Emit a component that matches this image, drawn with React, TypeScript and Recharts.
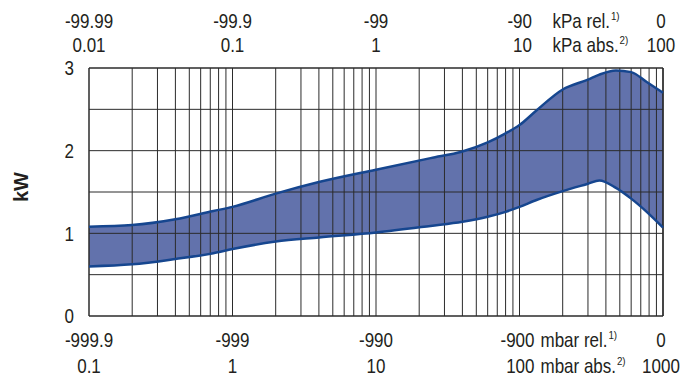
import React from 'react';
import { ComposedChart, Area, Line, XAxis, YAxis, ReferenceLine } from 'recharts';

// pressure in kPa abs, power in kW
const pressureKPa = [0.01, 0.02, 0.04, 0.0735, 0.1, 0.2, 0.4, 1, 2.4, 4, 6, 8, 10, 13, 20, 30, 36, 47, 60, 77, 100];
const powerMax = [1.08, 1.1, 1.17, 1.27, 1.32, 1.48, 1.62, 1.77, 1.91, 1.99, 2.1, 2.21, 2.31, 2.48, 2.74, 2.86, 2.92, 2.97, 2.95, 2.83, 2.7];
const powerMin = [0.6, 0.625, 0.69, 0.76, 0.81, 0.9, 0.95, 1.01, 1.09, 1.14, 1.2, 1.26, 1.32, 1.4, 1.51, 1.6, 1.64, 1.55, 1.42, 1.26, 1.07];

const decadeTicks = [0.01, 0.1, 1, 10, 100];
const kPaRelLabels = ['-99.99', '-99.9', '-99', '-90', '0'];
const kPaAbsLabels = ['0.01', '0.1', '1', '10', '100'];
const mbarRelLabels = ['-999.9', '-999', '-990', '-900', '0'];
const mbarAbsLabels = ['0.1', '1', '10', '100', '1000'];
const kwTicks = [0, 1, 2, 3];
const kwGrid = [0.5, 1, 1.5, 2, 2.5];

const data = pressureKPa.map((p, i) => ({
  p,
  max: powerMax[i],
  min: powerMin[i],
  range: [powerMin[i], powerMax[i]],
}));

const minorGrid: number[] = [];
for (const d of [0.01, 0.1, 1, 10]) {
  for (let k = 2; k <= 10; k++) minorGrid.push(+(k * d).toPrecision(3));
}

const FONT = '"Liberation Sans", Arial, sans-serif';
const FS = 20;
const SX = 0.85; // the source uses a condensed face
const TXT = '#231f20';
const GRID = '#2b2b2b';
const FILL = '#6272ac';
const EDGE = '#16468f';

function T({ x, y, anchor = 'middle', children, ...rest }: any) {
  return (
    <text
      transform={`translate(${x},${y}) scale(${SX},1)`}
      textAnchor={anchor}
      fontSize={FS}
      fill={TXT}
      fontFamily={FONT}
      {...rest}
    >
      {children}
    </text>
  );
}

function Unit({ x, y, name, sup }: { x: number; y: number; name: string; sup: string }) {
  return (
    <T x={x} y={y} anchor="start">
      <tspan>{name}</tspan>
      <tspan fontSize={11.5} dx={1} dy={-8}>{sup}</tspan>
    </T>
  );
}

function PressureTick({ x, payload, rows, units, unitDx, endDx }: any) {
  const i = decadeTicks.indexOf(payload.value);
  if (i < 0) return null;
  const [b1, b2] = rows;
  if (i === 3) {
    return (
      <g>
        <T x={x + endDx} y={b1} anchor="end">{units[0][i]}</T>
        <T x={x + endDx} y={b2} anchor="end">{units[1][i]}</T>
        <Unit x={x + unitDx} y={b1} name={units[2]} sup="1)" />
        <Unit x={x + unitDx} y={b2} name={units[3]} sup="2)" />
      </g>
    );
  }
  const tx = i === 4 ? x - 2 : x;
  return (
    <g>
      <T x={tx} y={b1}>{units[0][i]}</T>
      <T x={tx} y={b2}>{units[1][i]}</T>
    </g>
  );
}

function KwTick({ y, payload }: any) {
  return (
    <T x={66} y={y} anchor="end" dy="0.36em">
      {payload.value}
    </T>
  );
}

function KwLabel() {
  return (
    <text
      x={13}
      y={179}
      transform="rotate(-90 13 179)"
      textAnchor="middle"
      dominantBaseline="central"
      fontSize={20}
      fontWeight="bold"
      fill={TXT}
      fontFamily={FONT}
    >
      kW
    </text>
  );
}

export default function App() {
  return (
    <ComposedChart width={687} height={368} data={data} margin={{ top: 0, right: 32, bottom: 0, left: 0 }}>
      <XAxis
        xAxisId="bottom"
        dataKey="p"
        type="number"
        scale="log"
        domain={[0.01, 100]}
        ticks={decadeTicks}
        height={60}
        axisLine={false}
        tickLine={false}
        interval={0}
        tick={
          <PressureTick
            rows={[339.3, 364.7]}
            units={[mbarRelLabels, mbarAbsLabels, 'mbar rel.', 'mbar abs.']}
            unitDx={21}
            endDx={15}
          />
        }
      />
      <XAxis
        xAxisId="top"
        orientation="top"
        dataKey="p"
        type="number"
        scale="log"
        domain={[0.01, 100]}
        ticks={decadeTicks}
        height={60}
        axisLine={false}
        tickLine={false}
        interval={0}
        tick={
          <PressureTick
            rows={[19.7, 43.7]}
            units={[kPaRelLabels, kPaAbsLabels, 'kPa rel.', 'kPa abs.']}
            unitDx={33}
            endDx={12.5}
          />
        }
      />
      <YAxis
        domain={[0, 3]}
        ticks={kwTicks}
        width={81}
        axisLine={false}
        tickLine={false}
        interval={0}
        tick={<KwTick />}
        label={{ value: 'kW', content: () => <KwLabel /> }}
      />
      <Area
        xAxisId="bottom"
        dataKey="range"
        type="monotone"
        fill={FILL}
        fillOpacity={1}
        stroke="none"
        isAnimationActive={false}
      />
      {kwGrid.map((v) => (
        <ReferenceLine key={'h' + v} xAxisId="bottom" y={v} stroke={GRID} strokeWidth={1} />
      ))}
      {minorGrid.map((v) => (
        <ReferenceLine key={'v' + v} xAxisId="bottom" x={v} stroke={GRID} strokeWidth={1} />
      ))}
      <ReferenceLine xAxisId="bottom" y={0} stroke={GRID} strokeWidth={1.5} />
      <ReferenceLine xAxisId="bottom" y={3} stroke={GRID} strokeWidth={1.5} />
      <ReferenceLine xAxisId="bottom" x={0.01} stroke={GRID} strokeWidth={1.5} />
      <ReferenceLine xAxisId="bottom" x={100} stroke={GRID} strokeWidth={1.5} />
      <Line xAxisId="bottom" dataKey="max" type="monotone" stroke={EDGE} strokeWidth={2.5} dot={false} isAnimationActive={false} />
      <Line xAxisId="bottom" dataKey="min" type="monotone" stroke={EDGE} strokeWidth={2.5} dot={false} isAnimationActive={false} />
    </ComposedChart>
  );
}
